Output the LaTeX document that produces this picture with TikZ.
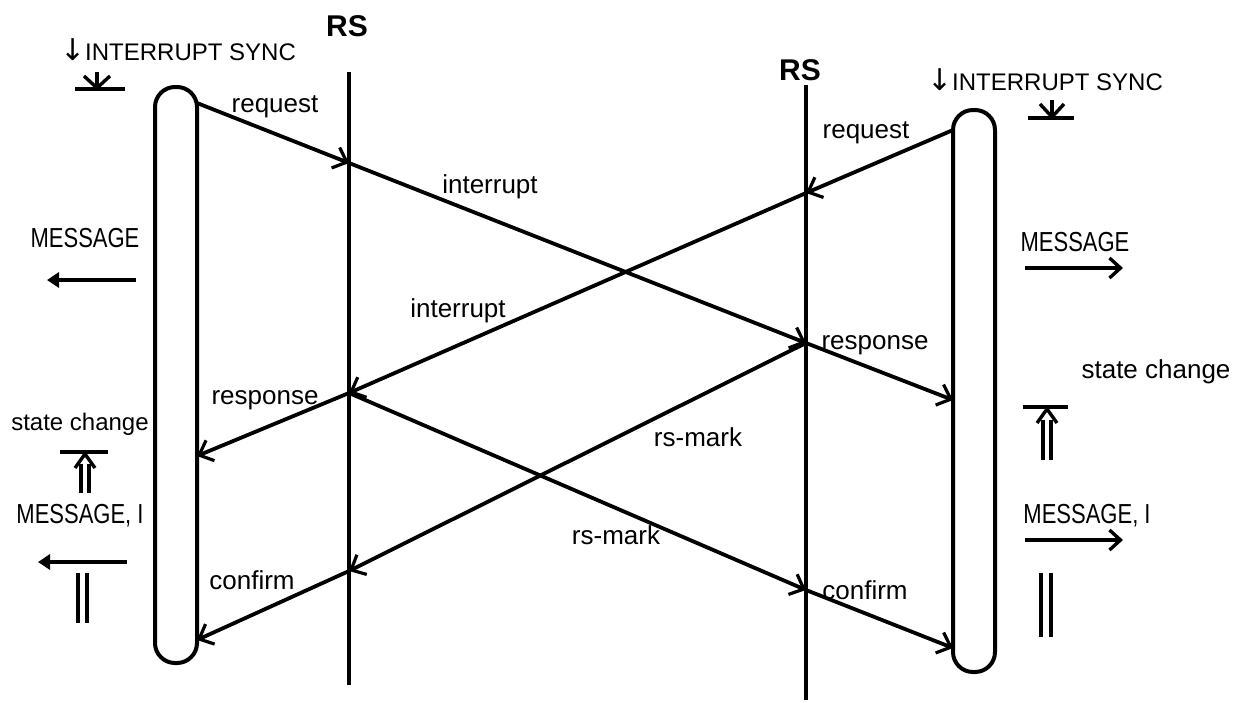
\documentclass[tikz,border=0pt]{standalone}
\usepackage{fontspec}
\setmainfont{Liberation Sans}
\newfontfamily\arrowfont{DejaVu Sans}
\usetikzlibrary{arrows.meta}
\begin{document}
\begin{tikzpicture}[x=1pt,y=-1pt,
  lane/.style={line width=4pt},
  pill/.style={draw, line width=4pt, rounded corners=20pt, minimum width=42pt, inner sep=0pt},
  msg/.style={line width=3.8pt, -{Straight Barb[length=12pt,width=22pt,line width=3.2pt]}},
  side/.style={line width=3.6pt, -{Straight Barb[length=11pt,width=20pt,line width=3.4pt]}},
  sidefill/.style={line width=3.6pt, -{Triangle[length=12pt,width=15pt]}},
  deco/.style={line width=3.4pt},
  lbl/.style={font=\fontsize{26}{28}\selectfont, inner sep=0pt},
  small/.style={font=\fontsize{24}{26}\selectfont, inner sep=0pt},
  caps/.style={font=\fontsize{22}{24}\selectfont, inner sep=0pt, yscale=1.25},
  title/.style={font=\fontsize{24}{26}\selectfont, inner sep=0pt},
  rs/.style={font=\bfseries\fontsize{30}{32}\selectfont, inner sep=0pt}
]
\useasboundingbox[fill=white] (0,0) rectangle (1245,702);

% RS labels and lines
\node[rs] (RS1) at (347,26) {RS};
\node[rs] (RS2) at (800,70) {RS};
\coordinate (R1top) at (349,72);
\coordinate (R1bot) at (349,685);
\coordinate (R2top) at (806,85);
\coordinate (R2bot) at (806,700);
\draw[lane] (R1top) -- (R1bot);
\draw[lane] (R2top) -- (R2bot);

% pills
\node[pill, minimum height=576pt] (LP) at (176,375) {};
\node[pill, minimum height=562pt] (RP) at (974,391) {};

% crossing points on RS lines
\coordinate (R1a) at (349,163);
\coordinate (R1b) at (349,393);
\coordinate (R1c) at (349,571);
\coordinate (R2a) at (806,193);
\coordinate (R2b) at (806,343);
\coordinate (R2c) at (806,590);
% points on pills
\coordinate (L1) at (197,103);
\coordinate (L2) at (197,456);
\coordinate (L3) at (197,640);
\coordinate (P1) at (953,130);
\coordinate (P2) at (953,400);
\coordinate (P3) at (953,648);

% messages
\draw[msg] (L1) -- (R1a);
\draw[msg] (R1a) -- (R2b);
\draw[msg] (R2b) -- (P2);
\draw[msg] (P1) -- (R2a);
\draw[msg] (R2a) -- (R1b);
\draw[msg] (R1b) -- (L2);
\draw[msg] (R1b) -- (R2c);
\draw[msg] (R2c) -- (P3);
\draw[msg] (R2b) -- (R1c);
\draw[msg] (R1c) -- (L3);

% message labels
\node[lbl] (lreq) at (275,107) {request};
\node[lbl] (rreq) at (866,133) {request};
\node[lbl] (int1) at (490,187) {interrupt};
\node[lbl] (int2) at (458,311) {interrupt};
\node[lbl] (resL) at (265,400) {response};
\node[lbl] (resR) at (875,345) {response};
\node[lbl] (rsm1) at (698,437) {rs-mark};
\node[lbl] (rsm2) at (616,535) {rs-mark};
\node[lbl] (conL) at (252,580) {confirm};
\node[lbl] (conR) at (865,590) {confirm};

% top titles
\node[title] (IS1) at (178,50) {{\arrowfont\fontsize{30}{30}\selectfont ↓}INTERRUPT SYNC};
\node[title] (IS2) at (1045,80) {{\arrowfont\fontsize{30}{30}\selectfont ↓}INTERRUPT SYNC};
% down-arrow-on-bar symbols
\coordinate (b1l) at (75,89);  \coordinate (b1r) at (125,89);
\draw[deco] (b1l) -- (b1r);
\draw[deco] (97,72) -- (97,88);
\draw[deco, line join=round] (84,76) -- (97,88) -- (110,76);
\coordinate (b2l) at (1028,118); \coordinate (b2r) at (1074,118);
\draw[deco] (b2l) -- (b2r);
\draw[deco] (1052,100) -- (1052,117);
\draw[deco, line join=round] (1040,104) -- (1052,117) -- (1064,104);

% left side
\node[caps] (msgL) at (85,238) {MESSAGE};
\coordinate (mLa) at (136,280); \coordinate (mLb) at (47,280);
\draw[sidefill] (mLa) -- (mLb);
\node[small] (scL) at (80,424) {state change};
\draw[deco] (60,452) -- (108,452);
\draw[deco] (81,464) -- (81,493);
\draw[deco] (89,464) -- (89,493);
\draw[deco, line join=round] (75,468) -- (85,454) -- (95,468);
\node[caps] (miL) at (80,516) {MESSAGE, I};
\coordinate (miLa) at (127,562); \coordinate (miLb) at (38,562);
\draw[sidefill] (miLa) -- (miLb);
\draw[deco] (78,573) -- (78,623);
\draw[deco] (87,573) -- (87,623);

% right side
\node[caps] (msgR) at (1075,242) {MESSAGE};
\coordinate (mRa) at (1025,268); \coordinate (mRb) at (1123,268);
\draw[side] (mRa) -- (mRb);
\node[lbl] (scR) at (1156,372) {state change};
\draw[deco] (1023,407) -- (1068,407);
\draw[deco] (1043,420) -- (1043,460);
\draw[deco] (1051,420) -- (1051,460);
\draw[deco, line join=round] (1037,423) -- (1047,409) -- (1057,423);
\node[caps] (miR) at (1087,516) {MESSAGE, I};
\coordinate (miRa) at (1025,540); \coordinate (miRb) at (1123,540);
\draw[side] (miRa) -- (miRb);
\draw[deco] (1041,573) -- (1041,637);
\draw[deco] (1051,573) -- (1051,637);
\end{tikzpicture}
\end{document}
